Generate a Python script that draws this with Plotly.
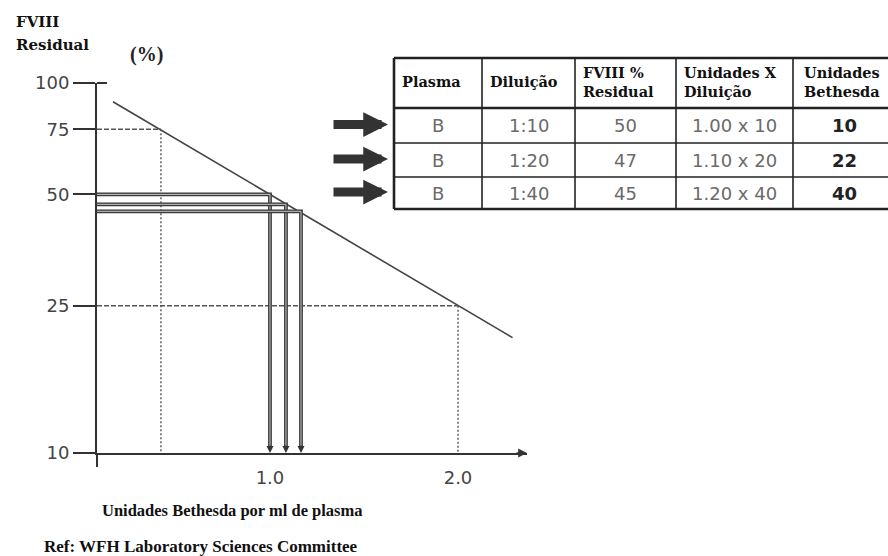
import plotly.graph_objects as go

W, H = 888, 556

# ---------------- data ----------------
line_x = [0.165, 2.29]          # Bethesda units per ml
line_y = [89, 20.5]             # FVIII residual (%)

guide_x = [0.42, 2.0]           # dotted guide points
guide_y = [75, 25]

read_x = [1.0, 1.085, 1.165]    # readings for the three dilutions
read_y = [50, 47, 45]

y_ticks = [10, 25, 50, 75, 100]
y_tick_text = ["10", "25", "50", "75", "100"]
x_ticks = [1.0, 2.0]
x_tick_text = ["1.0", "2.0"]

x_min, x_max = 0.08, 2.367

tbl_header = ["Plasma", "Diluição", "FVIII %<br>Residual", "Unidades X<br>Diluição", "Unidades<br>Bethesda"]
plasma = ["B", "B", "B"]
diluicao = ["1:10", "1:20", "1:40"]
fviii_res = ["50", "47", "45"]
unid_x_dil = ["1.00 x 10", "1.10 x 20", "1.20 x 40"]
bethesda = ["10", "22", "40"]

# ---------------- helpers ----------------
def px(x):
    return x / W

def py(y):
    return 1 - y / H

AX_L, AX_R, AX_B, AX_T = 97, 527, 453, 83

fig = go.Figure()

# main regression line
fig.add_trace(go.Scatter(x=line_x, y=line_y, mode="lines",
                         line=dict(color="#444", width=1.6), hoverinfo="skip"))

# dotted guides (horizontal dash, vertical dot)
for gx, gy in zip(guide_x, guide_y):
    fig.add_trace(go.Scatter(x=[x_min, gx], y=[gy, gy], mode="lines",
                             line=dict(color="#555", width=1.4, dash="5px,2px"), hoverinfo="skip"))
    fig.add_trace(go.Scatter(x=[gx, gx], y=[gy, 10], mode="lines",
                             line=dict(color="#555", width=1.4, dash="2px,2px"), hoverinfo="skip"))

# double-line readings
for rx, ry in zip(read_x, read_y):
    for col, wd in (("#3a3a3a", 3.8), ("#c8c8c8", 1.0)):
        fig.add_trace(go.Scatter(x=[x_min, rx, rx], y=[ry, ry, 10.25], mode="lines",
                                 line=dict(color=col, width=wd), hoverinfo="skip"))
    fig.add_annotation(x=rx, y=1, xref="x", yref="y", ax=0, ay=-9, showarrow=True,
                       arrowhead=2, arrowsize=1, arrowwidth=1.4, arrowcolor="#333", text="")

# ---------------- table (drawn from the arrays) ----------------
col_edges = [394, 482, 575, 676, 793, 895]
row_edges = [58, 108, 143, 177, 209]
columns = [plasma, diluicao, fviii_res, unid_x_dil, bethesda]

for i, xe in enumerate(col_edges[:-1]):
    wdt = 2.6 if i == 0 else 1.6
    fig.add_shape(type="line", xref="paper", yref="paper", x0=px(xe), x1=px(xe),
                  y0=py(row_edges[0]), y1=py(row_edges[-1]), line=dict(color="#222", width=wdt))
for j, ye in enumerate(row_edges):
    wdt = 2.6 if j in (0, 1, len(row_edges) - 1) else 1.6
    fig.add_shape(type="line", xref="paper", yref="paper", x0=px(col_edges[0]), x1=px(col_edges[-1]),
                  y0=py(ye), y1=py(ye), line=dict(color="#222", width=wdt))

for c, head in enumerate(tbl_header):
    fig.add_annotation(x=px(col_edges[c] + (6 if c < 4 else 9)),
                       y=py((row_edges[0] + row_edges[1]) / 2 - 1),
                       xref="paper", yref="paper", xanchor="left", yanchor="middle",
                       text="<b>%s</b>" % head, showarrow=False, align="left",
                       font=dict(family="DejaVu Serif", size=14.5, color="#111"))

for c, col in enumerate(columns):
    xc = (col_edges[c] + col_edges[c + 1]) / 2
    last = c == len(columns) - 1
    for r, val in enumerate(col):
        yc = (row_edges[r + 1] + row_edges[r + 2]) / 2
        fig.add_annotation(x=px(xc), y=py(yc), xref="paper", yref="paper",
                           xanchor="center", yanchor="middle", showarrow=False,
                           text=("<b>%s</b>" % val) if last else val,
                           font=dict(family="DejaVu Sans", size=18,
                                     color="#222" if last else "#6a6a6a"))

# row arrows pointing to table
for r in range(len(plasma)):
    yc = (row_edges[r + 1] + row_edges[r + 2]) / 2 - 1
    fig.add_annotation(x=px(388), y=py(yc), xref="paper", yref="paper",
                       ax=-56, ay=0, showarrow=True, arrowhead=2, arrowsize=0.55,
                       arrowwidth=9, arrowcolor="#333", text="", standoff=0)

# axis arrow
fig.add_annotation(x=1, y=0, xref="x domain", yref="y domain", ax=-12, ay=0,
                   showarrow=True, arrowhead=2, arrowsize=1.1, arrowwidth=1.6,
                   arrowcolor="#333", text="")

# y-axis extension below x-axis and small overshoot at 100
fig.add_shape(type="line", xref="paper", yref="paper", x0=px(AX_L), x1=px(AX_L),
              y0=py(AX_B), y1=py(467), line=dict(color="#333", width=2))
fig.add_shape(type="line", xref="paper", yref="paper", x0=px(AX_L), x1=px(107),
              y0=py(AX_T), y1=py(AX_T), line=dict(color="#333", width=2))

# texts
serif = "Liberation Serif"
fig.add_annotation(x=px(14), y=py(22), xref="paper", yref="paper", xanchor="left", yanchor="middle",
                   text="<b>FVIII</b>", showarrow=False,
                   font=dict(family="DejaVu Serif", size=15, color="#111"))
fig.add_annotation(x=px(14), y=py(45), xref="paper", yref="paper", xanchor="left", yanchor="middle",
                   text="<b>Residual</b>", showarrow=False,
                   font=dict(family="DejaVu Serif", size=15, color="#111"))
fig.add_annotation(x=px(146), y=py(54), xref="paper", yref="paper", xanchor="center", yanchor="middle",
                   text="<b>(%)</b>", showarrow=False,
                   font=dict(family=serif, size=20, color="#222"))
fig.add_annotation(x=px(100), y=py(510), xref="paper", yref="paper", xanchor="left", yanchor="middle",
                   text="<b>Unidades Bethesda por ml de plasma</b>", showarrow=False,
                   font=dict(family=serif, size=16.5, color="#111"))
fig.add_annotation(x=px(42), y=py(546), xref="paper", yref="paper", xanchor="left", yanchor="middle",
                   text="<b>Ref: WFH Laboratory Sciences Committee</b>", showarrow=False,
                   font=dict(family=serif, size=17, color="#111"))

fig.update_layout(
    width=W, height=H, showlegend=False,
    paper_bgcolor="white", plot_bgcolor="white",
    margin=dict(l=0, r=0, t=0, b=0, pad=0),
    xaxis=dict(domain=[px(AX_L), px(AX_R)], range=[x_min, x_max], automargin=False,
               tickvals=x_ticks, ticktext=x_tick_text, ticks="outside", ticklen=7,
               tickcolor="rgba(0,0,0,0)", showgrid=False, zeroline=False,
               showline=True, linecolor="#333", linewidth=2,
               tickfont=dict(family="DejaVu Sans", size=18, color="#444")),
    yaxis=dict(domain=[py(AX_B), py(AX_T)], type="log", range=[1, 2], automargin=False,
               tickvals=y_ticks, ticktext=y_tick_text, ticks="outside", ticklen=22,
               tickwidth=2, tickcolor="#333", showgrid=False, zeroline=False,
               showline=True, linecolor="#333", linewidth=2,
               tickfont=dict(family="DejaVu Sans", size=18, color="#444")),
)

fig.write_html("out.html", config={"displayModeBar": False},
               post_script="document.body.style.margin='0';document.body.style.overflow='hidden';")
